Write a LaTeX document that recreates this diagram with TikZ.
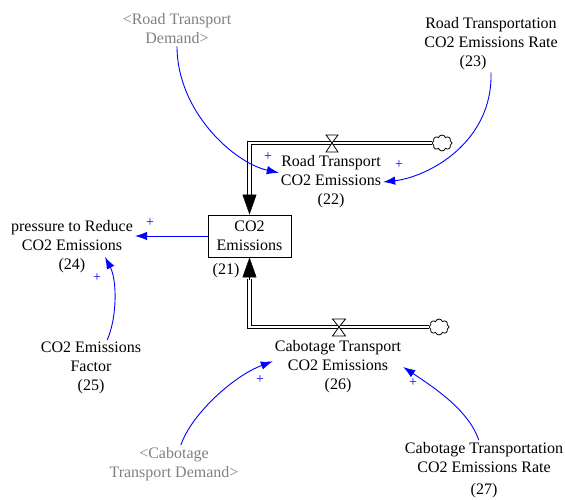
\documentclass[tikz,border=0pt]{standalone}
\usepackage{fontspec}
\setmainfont{Liberation Serif}
\usetikzlibrary{arrows.meta,shapes.symbols,calc}
\definecolor{vblue}{RGB}{0,0,255}
\definecolor{vgray}{RGB}{128,128,128}
\begin{document}
\begin{tikzpicture}[x=1pt,y=-1pt,
  lbl/.style={font=\fontsize{16}{19}\selectfont, align=center, inner sep=2pt},
  shadowvar/.style={lbl, text=vgray},
  stockbox/.style={draw, line width=0.9pt, minimum width=83pt, minimum height=42pt, lbl},
  pipe/.style={draw, double=white, double distance=2.6pt, line width=0.8pt},
  flowhead/.style={-{Triangle[length=20pt,width=14pt]}, line width=0.5pt},
  infl/.style={vblue, line width=0.9pt, -{Latex[length=12pt,width=8.5pt]}},
  pol/.style={text=vblue, font=\fontsize{14}{14}\selectfont, inner sep=0pt},
  cloudshape/.style={cloud, cloud puffs=8, draw, line width=0.8pt, minimum width=20pt, minimum height=16pt, fill=white, inner sep=0pt},
  valveshape/.style={draw, line width=0.8pt, fill=white, line join=miter}
]
\useasboundingbox (0,0) rectangle (565,500);

% stock and labels
\node[stockbox] (box) at (249.5,236) {CO2\\Emissions};
\node[lbl] (box21) at (226,271) {(21)};
\node[lbl] (rt) at (331,182) {Road Transport\\CO2 Emissions\\(22)};
\node[lbl] (cab) at (338,367) {Cabotage Transport\\CO2 Emissions\\(26)};
\node[lbl] (pr) at (72,246.5) {pressure to Reduce\\CO2 Emissions\\(24)};
\node[lbl] (fac) at (91,368) {CO2 Emissions\\Factor\\(25)};
\node[shadowvar] (rtd) at (177,29) {<Road Transport\\Demand>};
\node[shadowvar] (cd) at (174,464) {<Cabotage\\Transport Demand>};
\node[lbl] (rrate) at (491,44) {Road Transportation\\CO2 Emissions Rate\\(23)\hspace*{36pt}};
\node[lbl] (crate) at (484,470) {Cabotage Transportation\\CO2 Emissions Rate\\[3pt](27)};

% clouds
\node[cloudshape] (cloud1) at (442,143) {};
\node[cloudshape] (cloud2) at (439,327) {};

% pipes
\draw[pipe, shorten >=19pt] (cloud1.west) -| (box.north);
\draw[flowhead] ($(box.north)+(0,-20)$) -- (box.north);
\draw[pipe, shorten >=22pt] (cloud2.west) -| (box.south);
\draw[flowhead] ($(box.south)+(0,23)$) -- (box.south);

% valves
\coordinate (v1) at (332,143);
\draw[valveshape] ($(v1)+(-6,-8)$) -- ($(v1)+(6,-8)$) -- (v1) -- cycle;
\draw[valveshape] ($(v1)+(-6,9)$) -- ($(v1)+(6,9)$) -- (v1) -- cycle;
\coordinate (v2) at (339,327);
\draw[valveshape] ($(v2)+(-6.5,-8)$) -- ($(v2)+(6.5,-8)$) -- (v2) -- cycle;
\draw[valveshape] ($(v2)+(-6.5,9)$) -- ($(v2)+(6.5,9)$) -- (v2) -- cycle;

% influences
\draw[infl] (rtd.south) .. controls +(0,65) and +(-45,-10) .. (rt.170);
\draw[infl] (rrate.south) .. controls +(2,70) and +(45,-5) .. (rt.east);
\draw[infl] (box.west) -- (box.west -| pr.east);
\draw[infl] (fac.60) .. controls +(10,-23) and +(12,23) .. ($(pr.center)+(33,10.5)$);
\draw[infl] (cd.70) .. controls +(10,-30) and +(-40,15) .. (cab.175);
\draw[infl] (crate.100) .. controls +(-10,-30) and +(30,20) .. (cab.east);

% polarities
\node[pol] (p1) at (268,157) {+};
\node[pol] (p2) at (399,165) {+};
\node[pol] (p3) at (150,223) {+};
\node[pol] (p4) at (97,278) {+};
\node[pol] (p5) at (260,380) {+};
\node[pol] (p6) at (413,383) {+};
\end{tikzpicture}
\end{document}
